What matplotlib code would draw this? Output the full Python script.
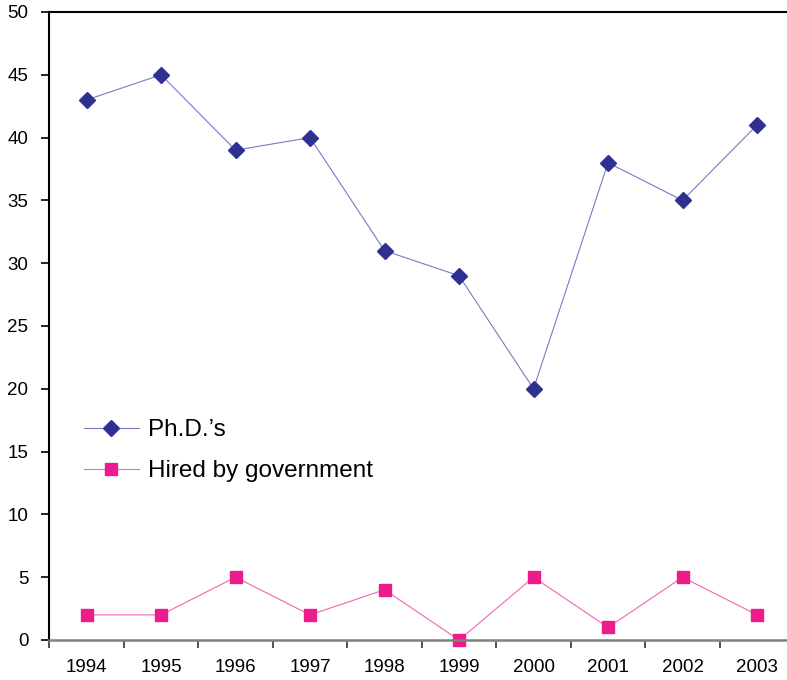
import numpy as np
import matplotlib.pyplot as plt
from matplotlib.ticker import FixedLocator

years = ['1994', '1995', '1996', '1997', '1998', '1999', '2000', '2001', '2002', '2003']
phds = [43, 45, 39, 40, 31, 29, 20, 38, 35, 41]
hired = [2, 2, 5, 2, 4, 0, 5, 1, 5, 2]

plt.rcParams['font.family'] = ['Liberation Sans', 'DejaVu Sans']

fig = plt.figure(figsize=(7.87, 6.8), dpi=100)
# axes spans a bit past the right edge, like the original
ax = fig.add_axes([49.3/787, 1-640/680, (794.3-49.3)/787, (640-12)/680])

x = np.arange(len(years))
ax.plot(x, phds, color='#7a7ac4', lw=0.8, marker='D', ms=8.5,
        mfc='#2e3192', mec='#2e3192', label="Ph.D.\u2019s", clip_on=False)
ax.plot(x, hired, color='#f066b4', lw=0.8, marker='s', ms=9,
        mfc='#ec1c8c', mec='#ec1c8c', label='Hired by government', clip_on=False)

ax.set_xlim(-0.5, len(years)-0.5)
ax.set_ylim(0, 50)
ax.set_yticks(range(0, 51, 5))
ax.set_xticks(x)
ax.set_xticklabels(years)
ax.xaxis.set_minor_locator(FixedLocator(np.arange(-0.5, len(years), 1)))
ax.tick_params(axis='x', which='major', length=0, labelsize=13.5, pad=14)
ax.tick_params(axis='x', which='minor', length=6, width=1.2, color='#333333', direction='out')
ax.tick_params(axis='y', length=6, width=1.2, labelsize=13.5, direction='out', pad=9)

for s in ['left', 'top']:
    ax.spines[s].set_linewidth(1.5)
    ax.spines[s].set_color('black')
ax.spines['bottom'].set_color('#808080')
ax.spines['bottom'].set_linewidth(1.8)
ax.spines['right'].set_visible(False)

ax.legend(loc='upper left', bbox_to_anchor=((84-49.3)/745, (640-419)/628),
          frameon=False, fontsize=17.5, handlelength=2.25, handletextpad=0.4,
          labelspacing=0.8, borderpad=0, borderaxespad=0)

fig.savefig('out.png', dpi=100)
